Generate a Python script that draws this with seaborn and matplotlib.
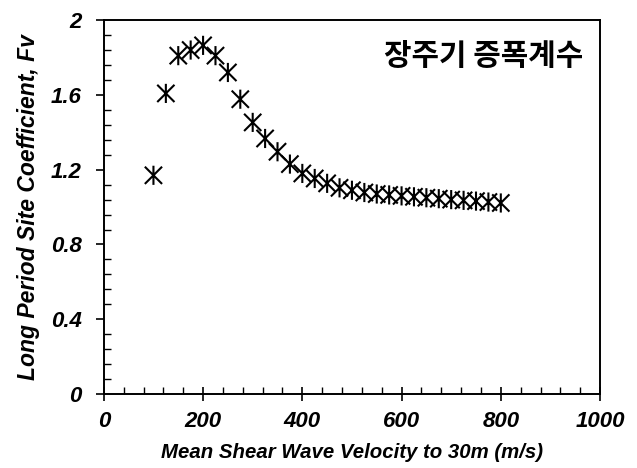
import matplotlib
matplotlib.use("Agg")
import matplotlib.pyplot as plt
import seaborn as sns
import pandas as pd
from matplotlib.ticker import MultipleLocator
from matplotlib.path import Path

velocity = [100, 125, 150, 175, 200, 225, 250, 275, 300, 325, 350, 375, 400,
            425, 450, 475, 500, 525, 550, 575, 600, 625, 650, 675, 700, 725,
            750, 775, 800]
fv = [1.17, 1.608, 1.81, 1.84, 1.865, 1.81, 1.72, 1.577, 1.453, 1.367, 1.296,
      1.23, 1.18, 1.153, 1.127, 1.103, 1.09, 1.078, 1.07, 1.065, 1.06, 1.055,
      1.05, 1.045, 1.04, 1.036, 1.032, 1.027, 1.022]
x_ticks = [0, 200, 400, 600, 800, 1000]
y_ticks = [0, 0.4, 0.8, 1.2, 1.6, 2]
y_tick_labels = ["0", "0.4", "0.8", "1.2", "1.6", "2"]
title_text = "장주기 증폭계수"
x_label = "Mean Shear Wave Velocity to 30m (m/s)"
y_label = "Long Period Site Coefficient, Fv"

df = pd.DataFrame({"v": velocity, "fv": fv})

# asterisk marker: vertical bar plus an X
star = Path([(0, -1), (0, 1), (-0.9, -0.9), (0.9, 0.9), (-0.9, 0.9), (0.9, -0.9)],
            [Path.MOVETO, Path.LINETO, Path.MOVETO, Path.LINETO,
             Path.MOVETO, Path.LINETO])

sns.set_style("ticks")
plt.rcParams["font.family"] = ["Liberation Sans", "DejaVu Sans"]
plt.rcParams["text.color"] = "black"
plt.rcParams["axes.labelcolor"] = "black"
plt.rcParams["xtick.color"] = "black"
plt.rcParams["ytick.color"] = "black"

fig = plt.figure(figsize=(6.37, 4.68), dpi=100)
ax = fig.add_axes([0.163, 0.158, 0.779, 0.799])

sns.scatterplot(data=df, x="v", y="fv", ax=ax, marker=star, s=190,
                facecolor="none", edgecolor="black", linewidths=1.5,
                legend=False)

ax.set_xlim(0, 1000)
ax.set_ylim(0, 2)
ax.set_xticks(x_ticks)
ax.set_yticks(y_ticks)
ax.set_yticklabels(y_tick_labels)
ax.xaxis.set_minor_locator(MultipleLocator(40))
ax.yaxis.set_minor_locator(MultipleLocator(0.08))

ax.tick_params(which="major", direction="inout", length=10, width=1.2,
               labelsize=16, pad=7, color="black", labelcolor="black")
ax.tick_params(which="minor", direction="in", length=5, width=1.0, color="black")
ax.tick_params(axis="y", which="major", direction="out", length=6, pad=10)
for lab in ax.get_xticklabels() + ax.get_yticklabels():
    lab.set_fontweight("bold")
    lab.set_fontstyle("italic")

for side in ["left", "bottom", "top", "right"]:
    ax.spines[side].set_visible(True)
    ax.spines[side].set_linewidth(1.4)
    ax.spines[side].set_color("black")

ax.set_xlabel(x_label, fontsize=14.7, fontweight="bold", fontstyle="italic",
              labelpad=8, color="black")
ax.set_ylabel(y_label, fontsize=16.5, fontweight="bold", fontstyle="italic",
              labelpad=8, color="black")

ax.text(0.766, 0.905, title_text, transform=ax.transAxes, ha="center",
        va="center", fontsize=21.5, fontweight="black", color="black",
        family=["Noto Sans CJK KR", "DejaVu Sans"])

fig.savefig("out.png", dpi=100, facecolor="white")
